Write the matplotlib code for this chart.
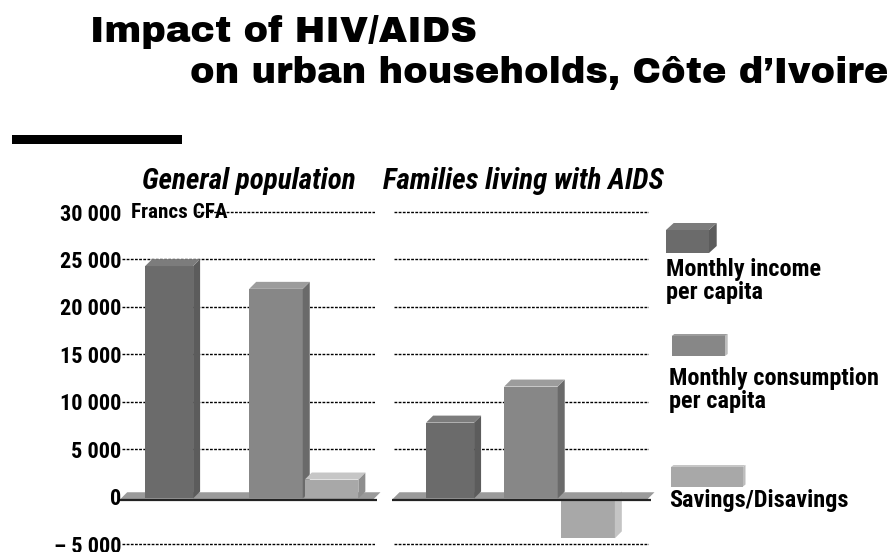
import matplotlib
matplotlib.use("Agg")
import matplotlib.pyplot as plt
from matplotlib.patches import Polygon, Rectangle

# data (Francs CFA per capita per month)
series = ["Monthly income\nper capita", "Monthly consumption\nper capita", "Savings/Disavings"]
groups = ["General population", "Families living with AIDS"]
general = [24500, 22100, 2000]
aids = [8000, 11800, -4200]
ticks = [30000, 25000, 20000, 15000, 10000, 5000, 0, -5000]
tick_labels = ["30 000", "25 000", "20 000", "15 000", "10 000", "5 000", "0", "\u2013 5 000"]

front = ["#6b6b6b", "#878787", "#a8a8a8"]
side = ["#5c5c5c", "#6a6a6a", "#8e8e8e"]
side_neg = "#c4c4c4"
top = ["#7c7c7c", "#9c9c9c", "#c6c6c6"]
floor_col = "#9a9a9a"

narrow = ["Roboto Condensed", "DejaVu Sans"]
heavy = ["Archivo Black", "DejaVu Sans"]

W, H = 892, 552
fig = plt.figure(figsize=(W / 100, H / 100), dpi=100)

# overlay in pixel coords for titles and legend
lay = fig.add_axes([0, 0, 1, 1])
lay.set_xlim(0, W)
lay.set_ylim(H, 0)
lay.axis("off")

# vertical scale: 0 at px 496.6, 0.009486 px per franc
zero_px, px_per = 496.6, 0.009486
top_px = 160
ylim = (-(H - zero_px) / px_per, (zero_px - top_px) / px_per)

unit = 51.0               # px per x unit
dx = 7 / unit             # 3d depth in x
dy = 7 / px_per           # 3d depth in y
d_front = 200             # front face sits slightly below 0
panels = [(121.7, 253.3), (394.0, 255.0)]
bar_left = [[0.46, 2.50, 3.59], [0.63, 2.16, 3.28]]
bar_w = [0.94, 1.05, 1.05]


def box3d(ax, x, y0, y1, w, ddx, ddy, i, neg=False, z=3):
    ax.add_patch(Rectangle((x, y0), w, y1 - y0, fc=front[i], ec="none", zorder=z))
    ax.add_patch(Polygon([(x + w, y0), (x + w + ddx, y0 + ddy), (x + w + ddx, y1 + ddy), (x + w, y1)],
                         fc=side_neg if neg else side[i], ec="none", zorder=z))
    if not neg:
        ax.add_patch(Polygon([(x, y1), (x + ddx, y1 + ddy), (x + w + ddx, y1 + ddy), (x + w, y1)],
                             fc=top[i], ec="none", zorder=z))


for p, (vals, (x0, wpx)) in enumerate(zip([general, aids], panels)):
    ax = fig.add_axes([x0 / W, 0, wpx / W, 1 - top_px / H])
    ax.set_xlim(0, wpx / unit)
    ax.set_ylim(*ylim)
    ax.patch.set_alpha(0)
    for s in ax.spines.values():
        s.set_visible(False)
    ax.set_xticks([])
    xmax = wpx / unit

    for t in ticks:
        if t == 0:
            continue
        start = 0
        if p == 0 and t == ticks[0]:
            start = (197 - x0) / unit
        ax.hlines(t, start, xmax, colors="black", linestyles=(0, (2, 1)), lw=1.0, zorder=1)

    # floor
    fl, fr = -0.03, xmax - 0.03
    fy0, fy1 = -280, -280 + dy
    ax.add_patch(Polygon([(fl, fy0), (fl + dx, fy1), (fr + dx, fy1), (fr, fy0)],
                         fc=floor_col, ec="none", zorder=2, clip_on=False))
    ax.plot([fl, fr + dx * 0.5], [fy0 - 60, fy0 - 60], color="#222222", lw=1.6, zorder=2,
            clip_on=False, solid_capstyle="butt")

    for i, v in enumerate(vals):
        neg = v < 0
        box3d(ax, bar_left[p][i], -d_front, v - d_front, bar_w[i], dx, dy, i, neg=neg,
              z=1.5 if neg else 3)

    if p == 0:
        ax.set_yticks(ticks)
        ax.set_yticklabels(tick_labels, fontfamily=narrow, fontweight="bold", fontsize=16)
        ax.tick_params(axis="y", length=0, pad=0)
    else:
        ax.set_yticks([])

# panel headers
lay.text(141.7, 189, groups[0], fontfamily=narrow, fontweight="bold", fontstyle="italic",
         fontsize=21, va="baseline", ha="left")
lay.text(382.7, 189, groups[1], fontfamily=narrow, fontweight="bold", fontstyle="italic",
         fontsize=21, va="baseline", ha="left")
lay.text(131, 218, "Francs CFA", fontfamily=narrow, fontweight="bold", fontsize=15.2,
         va="baseline", ha="left", zorder=0)

# title
lay.text(90, 42, "Impact of HIV/AIDS", fontfamily=heavy, fontsize=26.5,
         va="baseline", ha="left")
lay.text(190, 83, "on urban households, C\u00f4te d\u2019Ivoire", fontfamily=heavy,
         fontsize=26.5, va="baseline", ha="left")
lay.add_patch(Rectangle((12, 135), 170, 9, fc="black", ec="none"))

# legend swatches
leg_boxes = [(666, 230, 253, 43, 7.7, 7), (671.7, 336, 356, 53.3, 2.7, 2), (671, 467, 486.5, 72, 2.5, 2)]
leg_text = [(666, 299), (669, 408), (669, 506.5)]
for i, (lx, ly0, ly1, lw_, ldx, ldy) in enumerate(leg_boxes):
    lay.add_patch(Rectangle((lx, ly0), lw_, ly1 - ly0, fc=front[i], ec="none"))
    lay.add_patch(Polygon([(lx + lw_, ly0), (lx + lw_ + ldx, ly0 - ldy), (lx + lw_ + ldx, ly1 - ldy),
                           (lx + lw_, ly1)], fc=side[i] if i == 0 else "#bdbdbd", ec="none"))
    lay.add_patch(Polygon([(lx, ly0), (lx + ldx, ly0 - ldy), (lx + lw_ + ldx, ly0 - ldy), (lx + lw_, ly0)],
                          fc=top[i], ec="none"))
    tx, ty = leg_text[i]
    lay.text(tx, ty, series[i], fontfamily=narrow, fontweight="bold", fontsize=17.5,
             va="baseline", ha="left", linespacing=1.0)

fig.savefig("out.png", dpi=100)
